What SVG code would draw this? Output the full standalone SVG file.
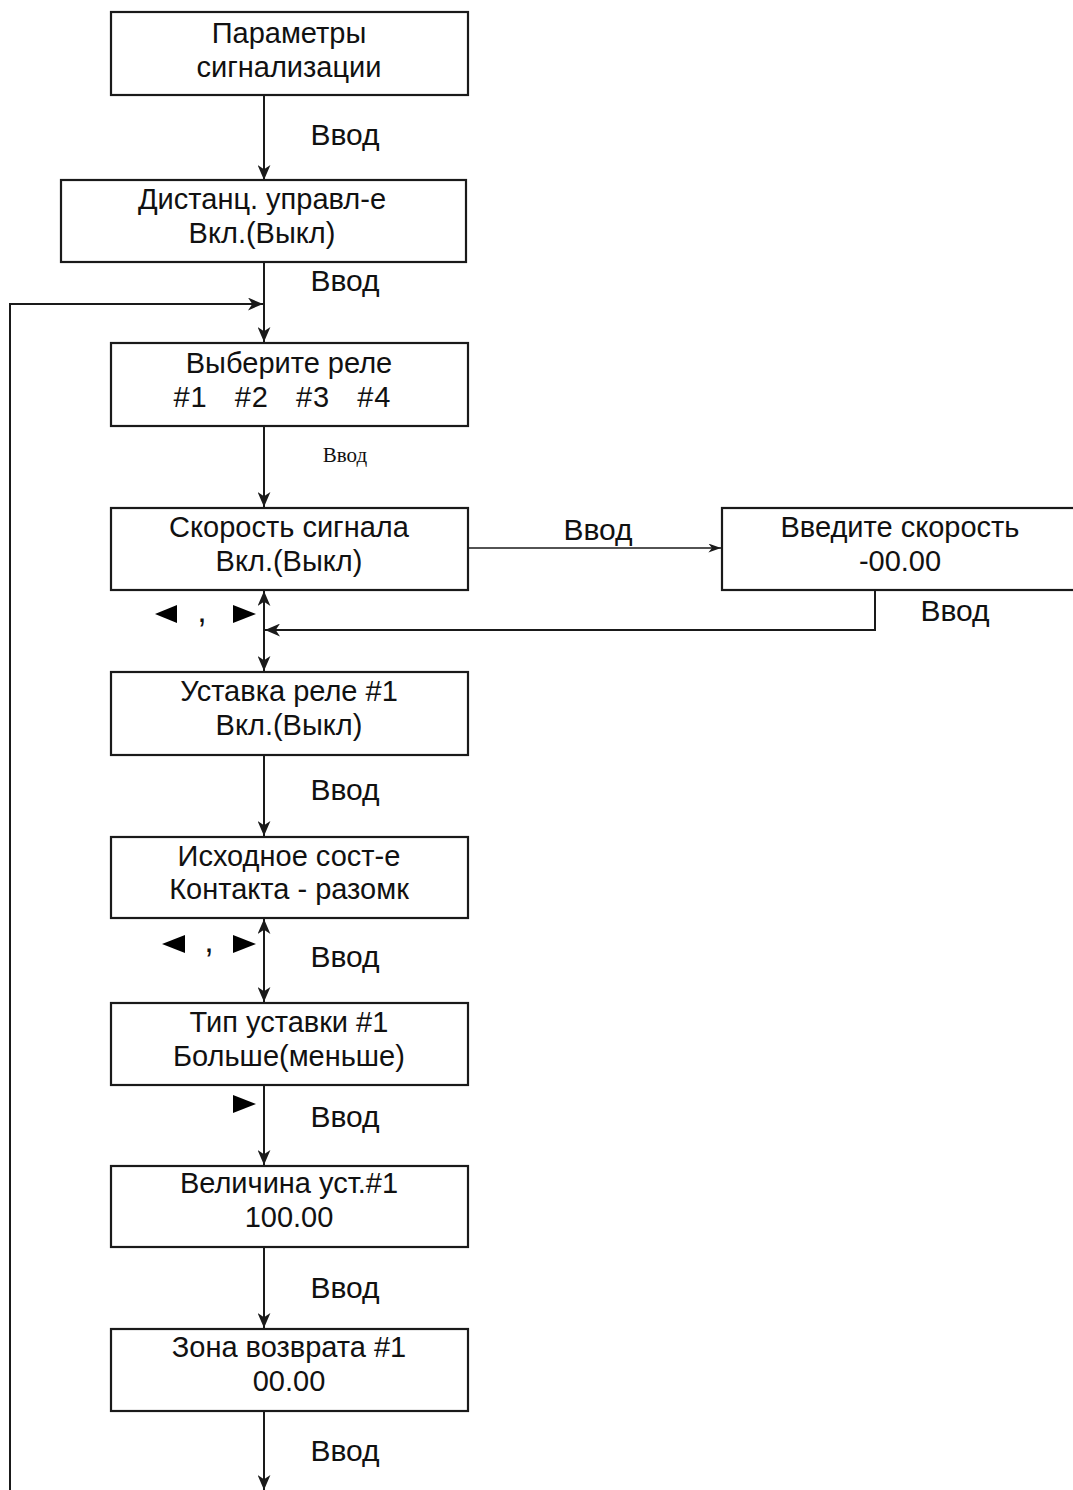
<svg xmlns="http://www.w3.org/2000/svg" width="1073" height="1490" viewBox="0 0 1073 1490">
<style>
.box{fill:#fff;stroke:#1a1a1a;stroke-width:2.2}
.t{font-family:"Liberation Sans",Arial,sans-serif;font-size:29px;fill:#111;text-anchor:middle}
.l{font-family:"Liberation Sans",Arial,sans-serif;font-size:30px;fill:#111;text-anchor:middle}
.s{font-family:"Liberation Serif","Times New Roman",serif;font-size:21px;fill:#111;text-anchor:middle}
.ln{fill:none;stroke:#1a1a1a;stroke-width:2}
.thin{fill:none;stroke:#1a1a1a;stroke-width:1.4}
.tri{fill:#000}
</style>
<defs>
<marker id="ah" viewBox="0 0 14 12" refX="14" refY="6" markerWidth="15" markerHeight="13" markerUnits="userSpaceOnUse" orient="auto-start-reverse">
<path d="M0,0 L14,6 L0,12 L4,6 z" fill="#1a1a1a"/>
</marker>
<marker id="ahs" viewBox="0 0 14 10" refX="14" refY="5" markerWidth="13" markerHeight="9" markerUnits="userSpaceOnUse" orient="auto">
<path d="M0,0 L14,5 L0,10 L4,5 z" fill="#1a1a1a"/>
</marker>
</defs>
<g id="connectors">
<line class="ln" x1="264" y1="95" x2="264" y2="180" marker-end="url(#ah)"/>
<line class="ln" x1="264" y1="262" x2="264" y2="342" marker-end="url(#ah)"/>
<polyline class="ln" points="10,1490 10,304 263,304" marker-end="url(#ah)"/>
<line class="ln" x1="264" y1="426" x2="264" y2="507" marker-end="url(#ah)"/>
<line class="thin" x1="468" y1="548" x2="721" y2="548" marker-end="url(#ahs)"/>
<polyline class="ln" points="875,591 875,630 265,630" marker-end="url(#ah)"/>
<line class="ln" x1="264" y1="591" x2="264" y2="671" marker-start="url(#ah)" marker-end="url(#ah)"/>
<line class="ln" x1="264" y1="755" x2="264" y2="836" marker-end="url(#ah)"/>
<line class="ln" x1="264" y1="919" x2="264" y2="1002" marker-start="url(#ah)" marker-end="url(#ah)"/>
<line class="ln" x1="264" y1="1085" x2="264" y2="1165" marker-end="url(#ah)"/>
<line class="ln" x1="264" y1="1247" x2="264" y2="1328" marker-end="url(#ah)"/>
<line class="ln" x1="264" y1="1411" x2="264" y2="1490" marker-end="url(#ah)"/>
</g>
<g id="labels">
<text class="l" x="345" y="145">Ввод</text>
<text class="l" x="345" y="291">Ввод</text>
<text class="s" x="345" y="462">Ввод</text>
<text class="l" x="598" y="540">Ввод</text>
<text class="l" x="955" y="621">Ввод</text>
<text class="l" x="345" y="800">Ввод</text>
<text class="l" x="345" y="967">Ввод</text>
<text class="l" x="345" y="1127">Ввод</text>
<text class="l" x="345" y="1298">Ввод</text>
<text class="l" x="345" y="1461">Ввод</text>
<polygon class="tri" points="155,614 177,605 177,623"/>
<text class="t" x="202" y="622" style="font-size:34px">,</text>
<polygon class="tri" points="233,605 256,614 233,623"/>
<polygon class="tri" points="162,944 185,935 185,953"/>
<text class="t" x="209" y="952" style="font-size:34px">,</text>
<polygon class="tri" points="233,935 256,944 233,953"/>
<polygon class="tri" points="233,1095 256,1104 233,1113"/>
</g>
<g id="n1"><rect class="box" x="111" y="12" width="357" height="83"/><text class="t" x="289" y="43">Параметры</text><text class="t" x="289" y="77">сигнализации</text></g>
<g id="n2"><rect class="box" x="61" y="180" width="405" height="82"/><text class="t" x="262" y="209">Дистанц. управл-е</text><text class="t" x="262" y="243">Вкл.(Выкл)</text></g>
<g id="n3"><rect class="box" x="111" y="343" width="357" height="83"/><text class="t" x="289" y="373">Выберите реле</text><text class="t" x="282" y="407" textLength="217" lengthAdjust="spacing" xml:space="preserve">#1   #2   #3   #4</text></g>
<g id="n4"><rect class="box" x="111" y="508" width="357" height="82"/><text class="t" x="289" y="537">Скорость сигнала</text><text class="t" x="289" y="571">Вкл.(Выкл)</text></g>
<g id="n5"><rect class="box" x="722" y="508" width="360" height="82"/><text class="t" x="900" y="537">Введите скорость</text><text class="t" x="900" y="571">-00.00</text></g>
<g id="n6"><rect class="box" x="111" y="672" width="357" height="83"/><text class="t" x="289" y="701">Уставка реле #1</text><text class="t" x="289" y="735">Вкл.(Выкл)</text></g>
<g id="n7"><rect class="box" x="111" y="837" width="357" height="81"/><text class="t" x="289" y="866">Исходное сост-е</text><text class="t" x="289" y="899">Контакта - разомк</text></g>
<g id="n8"><rect class="box" x="111" y="1003" width="357" height="82"/><text class="t" x="289" y="1032">Тип уставки #1</text><text class="t" x="289" y="1066">Больше(меньше)</text></g>
<g id="n9"><rect class="box" x="111" y="1166" width="357" height="81"/><text class="t" x="289" y="1193">Величина уст.#1</text><text class="t" x="289" y="1227">100.00</text></g>
<g id="n10"><rect class="box" x="111" y="1329" width="357" height="82"/><text class="t" x="289" y="1357">Зона возврата #1</text><text class="t" x="289" y="1391">00.00</text></g>
</svg>
